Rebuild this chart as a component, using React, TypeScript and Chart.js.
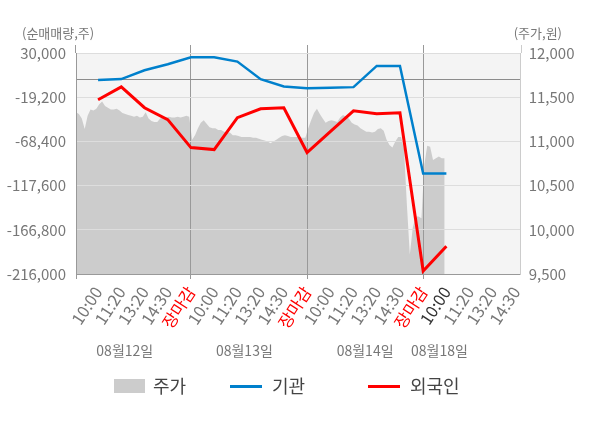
import { useEffect, useRef } from "react";
import { Chart, registerables, type ChartConfiguration, type Plugin } from "chart.js";

Chart.register(...registerables);

const FONT = '"Noto Sans CJK KR", "Noto Sans", sans-serif';
const BLUE = "#0080cc";
const RED = "#ff0000";
const AXIS_GRAY = "#999999";
const LABEL_GRAY = "#777777";

// one slot per time label, 장마감 closes each trading day
const timeLabels = [
  "10:00", "11:20", "13:20", "14:30", "장마감",
  "10:00", "11:20", "13:20", "14:30", "장마감",
  "10:00", "11:20", "13:20", "14:30", "장마감",
  "10:00", "11:20", "13:20", "14:30",
];
const dateLabels = ["08월12일", "08월13일", "08월14일", "08월18일"];
const leftTicks = [30000, -19200, -68400, -117600, -166800, -216000];

// 순매매량 (주), one value per time slot
const institution = [
  0, 1000, 10800, 17500, 25200, 25200, 20400, 900, -7300, -9100, -8800, -8000, 15600, 15600, -104100, -104100,
];
const foreign = [
  -22100, -7700, -30900, -44200, -75300, -77500, -42000, -32100, -30900, -80800, -57500, -34300, -37600, -36500, -212700, -185000,
];

// 주가 (원), intraday samples per day
const priceDay1 = [
  11330, 11310, 11260, 11140, 11290, 11360, 11350, 11370, 11420, 11450, 11400, 11380, 11360, 11360, 11370, 11350, 11320, 11310, 11300, 11290,
  11280, 11290, 11270, 11280, 11330, 11260, 11230, 11220, 11220, 11260, 11270, 11270, 11280, 11270, 11270, 11280, 11270, 11280, 11290, 11280,
];
const priceDay2 = [
  11020, 11070, 11150, 11210, 11240, 11200, 11160, 11150, 11150, 11130, 11130, 11110, 11100, 11100, 11070, 11070, 11060, 11050, 11050, 11050,
  11050, 11040, 11040, 11030, 11020, 11010, 11000, 10980, 11000, 11020, 11040, 11060, 11070, 11060, 11050, 11050, 11050, 11050, 11040, 11040,
];
const priceDay3 = [
  11150, 11240, 11320, 11370, 11310, 11260, 11210, 11230, 11240, 11230, 11220, 11270, 11300, 11280, 11260, 11210, 11190, 11180, 11150, 11130,
  11110, 11110, 11100, 11110, 11140, 11150, 11120, 11020, 10960, 10930, 11000, 11050, 11050, 10910, 10280, 9720, 10020, 10150, 10150, 10130,
];
const priceDay4 = [10740, 10950, 10940, 10790, 10810, 10830, 10810, 10810];

const X_MIN = -0.95;
const X_MAX = 18.2;
const PRICE_START = -0.95;
const PRICE_STEP = 0.125;
const CURRENT_SLOT = 15;
const DATE_SLOTS = [1.15, 6.3, 11.5, 14.7];

const isClose = (v: number) => timeLabels[v] === "장마감";

const decor: Plugin<"line"> = {
  id: "decor",
  beforeDraw(chart) {
    const { ctx, chartArea: a } = chart;
    ctx.save();
    ctx.fillStyle = "#f4f4f4";
    ctx.fillRect(a.left, a.top, a.right - a.left, a.bottom - a.top);
    ctx.restore();
  },
  afterDatasetDraw(chart, args) {
    // grid sits on top of the price area but under the two lines
    if (args.index !== 0) return;
    const s = chart.scales as any;
    s.x.drawGrid(chart.chartArea);
    s.y.drawGrid(chart.chartArea);
    s.x.drawBorder();
    s.y.drawBorder();
    s.y1.drawBorder();
  },
  afterDraw(chart) {
    const { ctx, chartArea: a } = chart;
    const x = chart.scales.x;
    ctx.save();
    ctx.lineWidth = 1;
    const stub = (px: number, color: string) => {
      ctx.strokeStyle = color;
      ctx.beginPath();
      ctx.moveTo(Math.round(px) + 0.5, a.top - 8);
      ctx.lineTo(Math.round(px) + 0.5, a.top);
      ctx.stroke();
    };
    stub(a.left - 1, AXIS_GRAY);
    timeLabels.forEach((l, i) => { if (l === "장마감") stub(x.getPixelForValue(i) - 0.5, AXIS_GRAY); });
    stub(a.right, "#cccccc");

    ctx.fillStyle = LABEL_GRAY;
    ctx.textBaseline = "middle";
    ctx.font = `13px ${FONT}`;
    ctx.textAlign = "left";
    ctx.fillText("(순매매량,주)", 22, 33);
    ctx.textAlign = "right";
    ctx.fillText("(주가,원)", 562, 33);

    ctx.font = `14px ${FONT}`;
    ctx.textAlign = "center";
    dateLabels.forEach((d, i) => ctx.fillText(d, x.getPixelForValue(DATE_SLOTS[i]), 351));
    ctx.restore();
  },
};

export default function App() {
  const canvasRef = useRef<HTMLCanvasElement>(null);

  useEffect(() => {
    if (!canvasRef.current) return;
    const price = [...priceDay1, ...priceDay2, ...priceDay3, ...priceDay4];
    const config: ChartConfiguration<"line"> = {
      type: "line",
      data: {
        datasets: [
          {
            label: "주가",
            data: price.map((p, k) => ({ x: PRICE_START + k * PRICE_STEP, y: p })),
            yAxisID: "y1",
            fill: "start",
            backgroundColor: "#cccccc",
            borderWidth: 0,
            pointRadius: 0,
            order: 3,
          },
          {
            label: "기관",
            data: institution.map((v, i) => ({ x: i, y: v })),
            yAxisID: "y",
            borderColor: BLUE,
            borderWidth: 2.5,
            pointRadius: 0,
            fill: false,
            order: 2,
          },
          {
            label: "외국인",
            data: foreign.map((v, i) => ({ x: i, y: v })),
            yAxisID: "y",
            borderColor: RED,
            borderWidth: 3,
            pointRadius: 0,
            fill: false,
            order: 1,
          },
        ],
      },
      options: {
        animation: false,
        responsive: true,
        maintainAspectRatio: false,
        layout: { padding: { top: 53, left: 0, right: 0, bottom: 0 } },
        plugins: { legend: { display: false }, tooltip: { enabled: false } },
        scales: {
          x: {
            type: "linear",
            min: X_MIN,
            max: X_MAX,
            afterBuildTicks: (s) => {
              s.ticks = [{ value: X_MIN }, ...timeLabels.map((_, i) => ({ value: i }))];
            },
            afterFit: (s) => {
              s.height = 154;
            },
            ticks: {
              autoSkip: false,
              minRotation: 57,
              maxRotation: 57,
              padding: 4,
              font: { family: FONT, size: 16.5 },
              color: (c) => (c.tick.value === CURRENT_SLOT ? "#333333" : isClose(c.tick.value) ? RED : LABEL_GRAY),
              callback: (v) => timeLabels[v as number] ?? "",
            },
            grid: {
              color: (c) => (isClose(c.tick.value) ? AXIS_GRAY : "transparent"),
              tickColor: (c) => (isClose(c.tick.value) || c.tick.value === X_MIN ? AXIS_GRAY : "transparent"),
              tickLength: 5,
            },
            border: { color: AXIS_GRAY },
          },
          y: {
            position: "left",
            min: -216000,
            max: 30000,
            afterBuildTicks: (s) => {
              s.ticks = [...leftTicks, 0].sort((a, b) => a - b).map((v) => ({ value: v }));
            },
            afterFit: (s) => {
              s.width = 76;
            },
            ticks: {
              padding: 10,
              font: { family: FONT, size: 15 },
              color: LABEL_GRAY,
              callback: (v) => (v === 0 ? "" : Number(v).toLocaleString("en-US")),
            },
            grid: {
              color: (c) => (c.tick.value === 0 ? "#8c8c8c" : "#dddddd"),
              drawTicks: false,
            },
            border: { color: AXIS_GRAY },
          },
          y1: {
            position: "right",
            min: 9500,
            max: 12000,
            afterFit: (s) => {
              s.width = 79.3;
            },
            ticks: {
              stepSize: 500,
              padding: 8,
              font: { family: FONT, size: 15 },
              color: LABEL_GRAY,
              callback: (v) => Number(v).toLocaleString("en-US"),
            },
            grid: { drawOnChartArea: false, drawTicks: false },
            border: { color: "#cccccc" },
          },
        },
      },
      plugins: [decor],
    };
    const chart = new Chart(canvasRef.current, config);
    return () => chart.destroy();
  }, []);

  const legendText: React.CSSProperties = { position: "absolute", top: 373, fontSize: 18, lineHeight: "24px", color: "#444444" };

  return (
    <div style={{ position: "fixed", left: 0, top: 0, width: 600, height: 428, background: "#ffffff", fontFamily: FONT }}>
      <canvas ref={canvasRef} />
      <div style={{ position: "absolute", left: 114, top: 379, width: 31, height: 14, background: "#cccccc" }} />
      <div style={{ ...legendText, left: 153 }}>주가</div>
      <div style={{ position: "absolute", left: 230, top: 385, width: 32, height: 3, background: BLUE }} />
      <div style={{ ...legendText, left: 272 }}>기관</div>
      <div style={{ position: "absolute", left: 368, top: 385, width: 32, height: 3, background: RED }} />
      <div style={{ ...legendText, left: 410 }}>외국인</div>
    </div>
  );
}
